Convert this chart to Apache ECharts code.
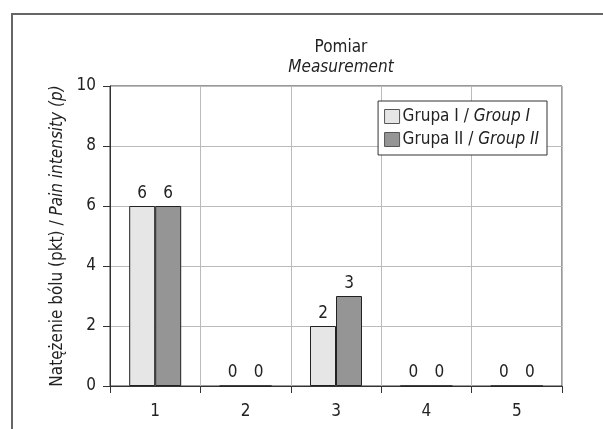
<!DOCTYPE html>
<html><head><meta charset="utf-8">
<script src="https://cdn.jsdelivr.net/npm/echarts@6/dist/echarts.min.js"></script>
<style>html,body{margin:0;padding:0;background:#fff}#c{width:603px;height:429px}</style>
</head><body><div id="c"></div>
<script>
const categories = ['1','2','3','4','5'];
const groupI = [6, 0, 2, 0, 0];
const groupII = [6, 0, 3, 0, 0];
const seriesNames = ['Grupa I / Group I', 'Grupa II / Group II'];
const yTicks = [0, 2, 4, 6, 8, 10];

const FONT = "'Liberation Sans Narrow', 'DejaVu Sans Condensed', sans-serif";
const TXT = '#222';
const chart = echarts.init(document.getElementById('c'), null, {renderer:'canvas'});
chart.setOption({
  animation:false,
  textStyle:{fontFamily:FONT},
  graphic:[{type:'rect', shape:{x:12, y:14, width:700, height:500}, style:{fill:'none', stroke:'#666', lineWidth:2}, silent:true}],
  title:{
    text:'Pomiar', subtext:'Measurement', left:336, top:34, textAlign:'center', itemGap:3,
    textStyle:{fontFamily:FONT, fontSize:17, fontWeight:'normal', color:TXT},
    subtextStyle:{fontFamily:FONT, fontSize:17, fontStyle:'italic', color:TXT}
  },
  legend:{
    data:seriesNames, orient:'vertical', right:56, top:101,
    backgroundColor:'#fff', borderColor:'#333', borderWidth:1, padding:[7,8,7,6], itemGap:6,
    icon:'rect', itemWidth:15, itemHeight:14,
    itemStyle:{borderColor:'#555', borderWidth:1},
    formatter:function(n){ const p=n.split(' / '); return p[0]+' / {i|'+p[1]+'}'; },
    textStyle:{fontFamily:FONT, fontSize:17, color:TXT, padding:[0,0,0,-2],
      rich:{i:{fontFamily:FONT, fontSize:17, fontStyle:'italic', color:TXT}}}
  },
  grid:{left:110, top:86, right:41, bottom:43, show:true, borderColor:'#333', borderWidth:1, containLabel:false},
  xAxis:{
    type:'category', data:categories, boundaryGap:true,
    axisLine:{lineStyle:{color:'#333', width:1}},
    axisTick:{show:true, alignWithLabel:false, length:7, lineStyle:{color:'#333'}},
    splitLine:{show:true, interval:0, lineStyle:{color:'#bbb', width:1}},
    axisLabel:{fontFamily:FONT, fontSize:17, color:TXT, margin:17}
  },
  yAxis:{
    type:'value', min:0, max:10, interval:2,
    name:'Natężenie bólu (pkt) / {i|Pain intensity (p)}', nameLocation:'middle', nameGap:40, nameRotate:90,
    nameTextStyle:{fontFamily:FONT, fontSize:17, color:TXT, rich:{i:{fontFamily:FONT, fontSize:17, fontStyle:'italic', color:TXT}}},
    axisLine:{show:true, lineStyle:{color:'#333'}},
    axisTick:{show:true, length:7, lineStyle:{color:'#333'}},
    splitLine:{show:true, lineStyle:{color:'#bbb', width:1}},
    axisLabel:{fontFamily:FONT, fontSize:17, color:TXT, margin:14, formatter:function(v){return yTicks.includes(v)?String(v):'';}}
  },
  series:[
    {name:seriesNames[0], type:'bar', data:groupI, barWidth:26, barGap:'0%',
     itemStyle:{color:'#e6e6e6', borderColor:'#222', borderWidth:1},
     label:{show:true, position:'top', distance:4, fontFamily:FONT, fontSize:17, color:TXT}},
    {name:seriesNames[1], type:'bar', data:groupII, barWidth:26, barGap:'0%',
     itemStyle:{color:'#959595', borderColor:'#222', borderWidth:1},
     label:{show:true, position:'top', distance:4, fontFamily:FONT, fontSize:17, color:TXT}}
  ]
});
</script></body></html>
